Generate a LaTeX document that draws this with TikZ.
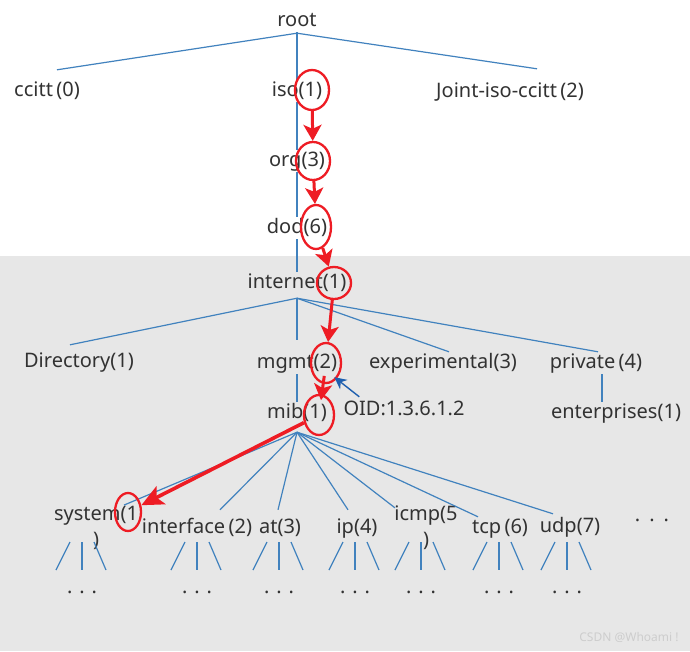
\documentclass[tikz,border=0pt]{standalone}
\usepackage{fontspec}
\setmainfont{Noto Sans}
\usetikzlibrary{arrows.meta,shapes.geometric,positioning}
\definecolor{treeblue}{RGB}{65,130,190}
\definecolor{oidblue}{RGB}{30,95,175}
\definecolor{markred}{RGB}{238,28,36}
\definecolor{bggrey}{RGB}{231,231,231}
\definecolor{txt}{RGB}{50,50,50}
\begin{document}
\begin{tikzpicture}[x=1pt,y=-1pt,
  lbl/.style={text=txt,font=\fontsize{20}{26}\selectfont,inner sep=1pt,text height=15pt,text depth=5pt},
  twoline/.style={text=txt,font=\fontsize{20}{26}\selectfont,inner sep=1pt,align=center},
  branch/.style={draw=treeblue,line width=1.2pt},
  ring/.style={ellipse,draw=markred,line width=2.3pt,inner sep=0pt},
  hop/.style={draw=markred,line width=3pt,-{Stealth[length=16pt,width=18pt,inset=4pt]}}]
  \useasboundingbox (0,0) rectangle (690,651);
  \fill[white] (0,0) rectangle (690,256);
  \fill[bggrey] (0,256) rectangle (690,651);

  % upper levels
  \node[lbl] (root) at (297,21) {root};
  \node[lbl] (ccitt0) at (47,91) {ccitt\,(0)};
  \node[lbl] (iso1) at (297,91) {iso(1)};
  \node[lbl] (joint2) at (510,92) {Joint-iso-ccitt\,(2)};
  \node[lbl] (org3) at (297,161) {org(3)};
  \node[lbl] (dod6) at (297,228) {dod(6)};
  \node[lbl] (inet1) at (297,283) {internet(1)};
  \node[lbl] (dir1) at (79,362) {Directory(1)};
  \node[lbl] (mgmt2) at (297,363) {mgmt(2)};
  \node[lbl] (exp3) at (443,363) {experimental(3)};
  \node[lbl] (priv4) at (596,363) {private\,(4)};
  \node[lbl] (mib1) at (297,413) {mib(1)};
  \node[lbl] (oid) at (404,410) {OID:1.3.6.1.2};
  \node[lbl] (ent1) at (616,413) {enterprises(1)};

  % mib subtree
  \node[twoline] (sys1) at (96,528) {system(1\\)};
  \node[lbl] (if2) at (197,528) {interface\,(2)};
  \node[lbl] (at3) at (280,528) {at(3)};
  \node[lbl] (ip4) at (357,528) {ip(4)};
  \node[twoline] (icmp5) at (426,528) {icmp(5\\)};
  \node[lbl] (tcp6) at (500,528) {tcp\,(6)};
  \node[lbl] (udp7) at (570,527) {udp(7)};
  \node[lbl] (more) at (652,522) {·\hspace{9pt}·\hspace{9pt}·};

  \draw[branch] ([yshift=-1pt]root.south) -- ([xshift=10pt,yshift=10pt]ccitt0.north);
  \draw[branch] ([yshift=-1pt]root.south) -- ([xshift=27pt,yshift=12pt]joint2.north);
  \draw[branch] (root) -- (iso1);
  \draw[branch] (iso1) -- (org3);
  \draw[branch] (org3) -- (dod6);
  \draw[branch] (dod6) -- (inet1);

  \coordinate (fork) at ([yshift=-4pt]inet1.south);
  \draw[branch] (fork) -- ([xshift=-9pt,yshift=6pt]dir1.north);
  \draw[branch] (fork) -- ([yshift=12pt]mgmt2.north);
  \draw[branch] (fork) -- ([xshift=6pt]exp3.north);
  \draw[branch] (fork) -- ([xshift=2pt]priv4.north);
  \draw[branch] ([xshift=6pt]priv4.south) -- ([xshift=-14pt]ent1.north);
  \draw[branch] (mgmt2) -- (mib1);

  \coordinate (mibfork) at ([yshift=-8pt]mib1.south);
  \foreach \k/\dx/\dy in {sys1/28/0,if2/23/7,at3/-2/7,ip4/-9/7,icmp5/-31/-3,tcp6/-22/0,udp7/-17/2}
    \draw[branch] (mibfork) -- ([xshift=\dx pt,yshift=\dy pt]\k.north);

  \foreach \cx [count=\i] in {82,197,279,355,421,499,567}{
    \node[lbl] (d\i) at (\cx,588) {. . .};
    \foreach \a/\b in {-12/-26,0/0,12/24}
      \draw[branch] ([xshift=\a pt,yshift=46pt]d\i.center) -- ([xshift=\b pt,yshift=18pt]d\i.center);
  }

  % red marks on the path
  \node[ring,minimum width=34pt,minimum height=40pt] (ciso) at (312,90) {};
  \node[ring,minimum width=34pt,minimum height=38pt] (corg) at (313,161) {};
  \node[ring,minimum width=30pt,minimum height=44pt] (cdod) at (316,227) {};
  \node[ring,minimum width=34pt,minimum height=32pt] (cint) at (334,283) {};
  \node[ring,minimum width=30pt,minimum height=40pt] (cmgmt) at (326,363) {};
  \node[ring,minimum width=30pt,minimum height=40pt] (cmib) at (319,415) {};
  \node[ring,minimum width=26pt,minimum height=38pt] (csys) at (128,512) {};

  \draw[hop] (ciso) -- (corg);
  \draw[hop] (corg) -- (cdod);
  \draw[hop] (cdod) -- (cint);
  \draw[hop] (cint) -- (cmgmt);
  \draw[hop,shorten <=-8pt,shorten >=-6pt] (cmgmt) -- (cmib);
  \draw[hop,line width=3.6pt,-{Stealth[length=22pt,width=20pt,inset=5pt]}] (cmib) -- (csys);

  \draw[draw=oidblue,line width=1.4pt,-{Stealth[length=12pt,width=12pt]}] ([xshift=17pt,yshift=2pt]oid.north west) -- ([xshift=-4pt,yshift=-3pt]mgmt2.south east);

  \node[text={rgb,255:red,205;green,205;blue,205},font=\fontsize{12}{14}\selectfont] (mark) at (629,637) {CSDN @Whoami !};
\end{tikzpicture}
\end{document}
